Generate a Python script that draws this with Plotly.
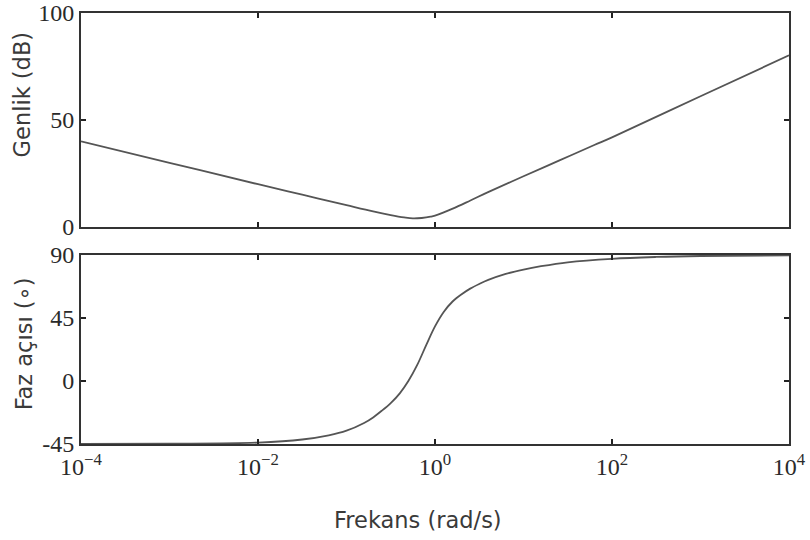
import plotly.graph_objects as go
from plotly.subplots import make_subplots

# Magnitude (Genlik)
freq_mag = [0.0001, 0.001, 0.01, 0.0316, 0.1, 0.2, 0.316, 0.447, 0.562, 0.708, 0.891, 1.0,
            1.585, 2.512, 3.981, 10.0, 25.12, 63.1, 100.0, 1000.0, 10000.0]
mag_db = [40.0, 30.0, 20.0, 15.1, 10.2, 7.3, 5.6, 4.5, 4.0, 4.2, 4.8, 5.3,
          8.6, 12.4, 16.3, 23.7, 31.0, 38.3, 41.9, 61.1, 80.2]

# Phase (Faz açısı)
freq_ph = [0.0001, 0.001, 0.01, 0.0316, 0.063, 0.1, 0.158, 0.2, 0.25, 0.316, 0.4, 0.5,
           0.63, 0.8, 1.0, 1.26, 1.58, 2.0, 2.5, 3.16, 4.0, 6.3, 10.0, 15.8, 31.6,
           100.0, 316.0, 1000.0, 10000.0]
phase_deg = [-45.0, -44.8, -44.0, -41.8, -38.8, -35.5, -30.0, -26.0, -21.3, -15.8, -8.8, 0.0,
             11.5, 26.0, 39.0, 49.5, 56.8, 62.0, 66.0, 69.3, 72.2, 76.5, 79.6, 82.0, 84.8,
             87.3, 88.6, 89.3, 89.8]

x_tickvals = [1e-4, 1e-2, 1e0, 1e2, 1e4]
x_ticktext = ["10<sup>−4</sup>", "10<sup>−2</sup>", "10<sup>0</sup>", "10<sup>2</sup>", "10<sup>4</sup>"]
mag_ticks = [0, 50, 100]
ph_ticks = [-45, 0, 45, 90]

fig = make_subplots(rows=2, cols=1, vertical_spacing=0.065)

line_style = dict(color="#555555", width=1.8, shape="spline", smoothing=1.0)
fig.add_trace(go.Scatter(x=freq_mag, y=mag_db, mode="lines", line=line_style,
                         showlegend=False), row=1, col=1)
fig.add_trace(go.Scatter(x=freq_ph, y=phase_deg, mode="lines", line=line_style,
                         showlegend=False), row=2, col=1)

axis_common = dict(showline=True, linecolor="#333333", linewidth=2, mirror="ticks",
                   ticks="inside", ticklen=5, tickwidth=1.5, tickcolor="#222222",
                   showgrid=False, zeroline=False, automargin=False,
                   tickfont=dict(family="Liberation Serif", size=24, color="#2a2a2a"))

fig.update_xaxes(type="log", range=[-4, 4], tickvals=x_tickvals, ticktext=x_ticktext,
                 **axis_common)
fig.update_xaxes(showticklabels=False, row=1, col=1)
fig.update_xaxes(domain=[0, 1])
fig.update_yaxes(**axis_common)
fig.update_yaxes(range=[0, 100], tickvals=mag_ticks, domain=[0.5035, 1.0], row=1, col=1)
fig.update_yaxes(range=[-45, 90], tickvals=ph_ticks, ticktext=["-45", "0", "45", "90"],
                 domain=[0.0, 0.4385], row=2, col=1)

title_font = dict(family="DejaVu Sans", size=22.5, color="#3a3a3a")
fig.add_annotation(text="Genlik (dB)", xref="paper", yref="paper", x=-0.082, y=0.811,
                   xanchor="center", yanchor="middle", textangle=-90, showarrow=False,
                   font=title_font)
fig.add_annotation(text="Faz açısı (∘)",
                   xref="paper", yref="paper", x=-0.08, y=0.232,
                   xanchor="center", yanchor="middle", textangle=-90, showarrow=False,
                   font=title_font)
fig.add_annotation(text="Frekans (rad/s)", xref="paper", yref="paper", x=0.476, y=-0.176,
                   xanchor="center", yanchor="middle", showarrow=False, font=title_font)

fig.update_layout(width=810, height=540, margin=dict(l=81, r=21, t=13, b=96),
                  paper_bgcolor="white", plot_bgcolor="white")

fig.write_html("out.html", config={"displayModeBar": False},
               post_script="document.body.style.margin='0';")
